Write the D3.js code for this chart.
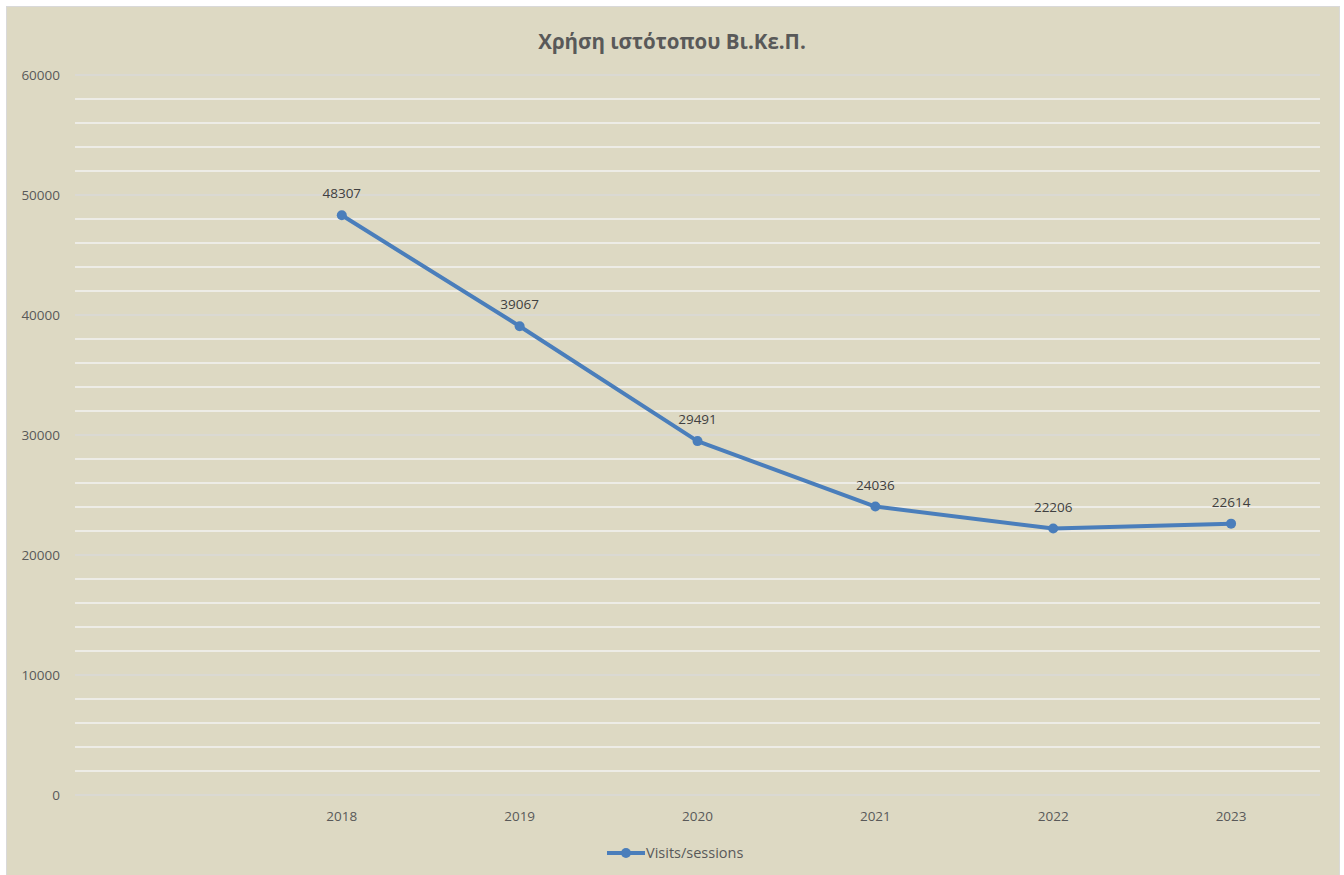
<!DOCTYPE html>
<html><head><meta charset="utf-8">
<script src="https://cdn.jsdelivr.net/npm/d3@7"></script>
<style>
html,body{margin:0;padding:0;background:#fff;}
svg{display:block;}
</style></head>
<body>
<svg id="chart" width="1344" height="875"></svg>
<script>
const categories = ["", "2018", "2019", "2020", "2021", "2022", "2023"];
const values = [null, 48307, 39067, 29491, 24036, 22206, 22614];
const yTicks = [0, 10000, 20000, 30000, 40000, 50000, 60000];
const seriesName = "Visits/sessions";
const title = "Χρήση ιστότοπου Βι.Κε.Π.";

(function(){
const svg = d3.select("#chart");
const font = "'Open Sans', 'Noto Sans', sans-serif";
svg.append("rect").attr("x",6.5).attr("y",6.5).attr("width",1333).attr("height",875)
  .attr("fill","#ddd9c3").attr("stroke","#d9d9d9").attr("stroke-width",1);

const pL = 75, pR = 1320, pT = 75, pB = 795;
const x = d3.scaleBand().domain(categories.map((c,i)=>i)).range([pL,pR]).padding(0);
const y = d3.scaleLinear().domain([0,60000]).range([pB,pT]);

const minor = d3.range(0,60001,2000).filter(v=>v%10000!==0);
svg.append("g").selectAll("line").data(minor).join("line")
  .attr("x1",pL).attr("x2",pR).attr("y1",d=>y(d)).attr("y2",d=>y(d))
  .attr("stroke","#f2f2f2").attr("stroke-width",1.3);
svg.append("g").selectAll("line").data(yTicks).join("line")
  .attr("x1",pL).attr("x2",pR).attr("y1",d=>y(d)).attr("y2",d=>y(d))
  .attr("stroke","#d9d9d9").attr("stroke-width",1.3);

const yAxis = d3.axisLeft(y).tickValues(yTicks).tickSize(0).tickPadding(15).tickFormat(d3.format("d"));
const gy = svg.append("g").attr("transform",`translate(${pL},0)`).call(yAxis);
gy.select(".domain").remove();
gy.selectAll("text").attr("fill","#595959").style("font-family",font).style("font-size","13.5px");

const xAxis = d3.axisBottom(x).tickSize(0).tickPadding(16).tickFormat(i=>categories[i]);
const gx = svg.append("g").attr("transform",`translate(0,${pB})`).call(xAxis);
gx.select(".domain").remove();
gx.selectAll("text").attr("fill","#595959").style("font-family",font).style("font-size","13.5px");

svg.append("text").attr("x",672).attr("y",49).attr("text-anchor","middle")
  .attr("fill","#595959").style("font-family",font).style("font-size","20.5px").style("font-weight","bold")
  .text(title);

const pts = values.map((v,i)=>({v,i})).filter(d=>d.v!==null);
const cx = d=>x(d.i)+x.bandwidth()/2;
const line = d3.line().x(cx).y(d=>y(d.v));
svg.append("path").datum(pts).attr("d",line).attr("fill","none")
  .attr("stroke","#4a7ebb").attr("stroke-width",4).attr("stroke-linejoin","round").attr("stroke-linecap","round");
svg.append("g").selectAll("circle").data(pts).join("circle")
  .attr("cx",cx).attr("cy",d=>y(d.v)).attr("r",5).attr("fill","#4a7ebb");
svg.append("g").selectAll("text").data(pts).join("text")
  .attr("x",cx).attr("y",d=>y(d.v)-17).attr("text-anchor","middle")
  .attr("fill","#404040").style("font-family",font).style("font-size","13.5px")
  .text(d=>d.v);

const lg = svg.append("g").attr("transform","translate(607,853)");
lg.append("line").attr("x1",0).attr("x2",38).attr("y1",0).attr("y2",0).attr("stroke","#4a7ebb").attr("stroke-width",4);
lg.append("circle").attr("cx",19).attr("cy",0).attr("r",5).attr("fill","#4a7ebb");
lg.append("text").attr("x",39).attr("y",5).attr("fill","#595959").style("font-family",font).style("font-size","14.5px").text(seriesName);
})();
</script>
</body></html>
